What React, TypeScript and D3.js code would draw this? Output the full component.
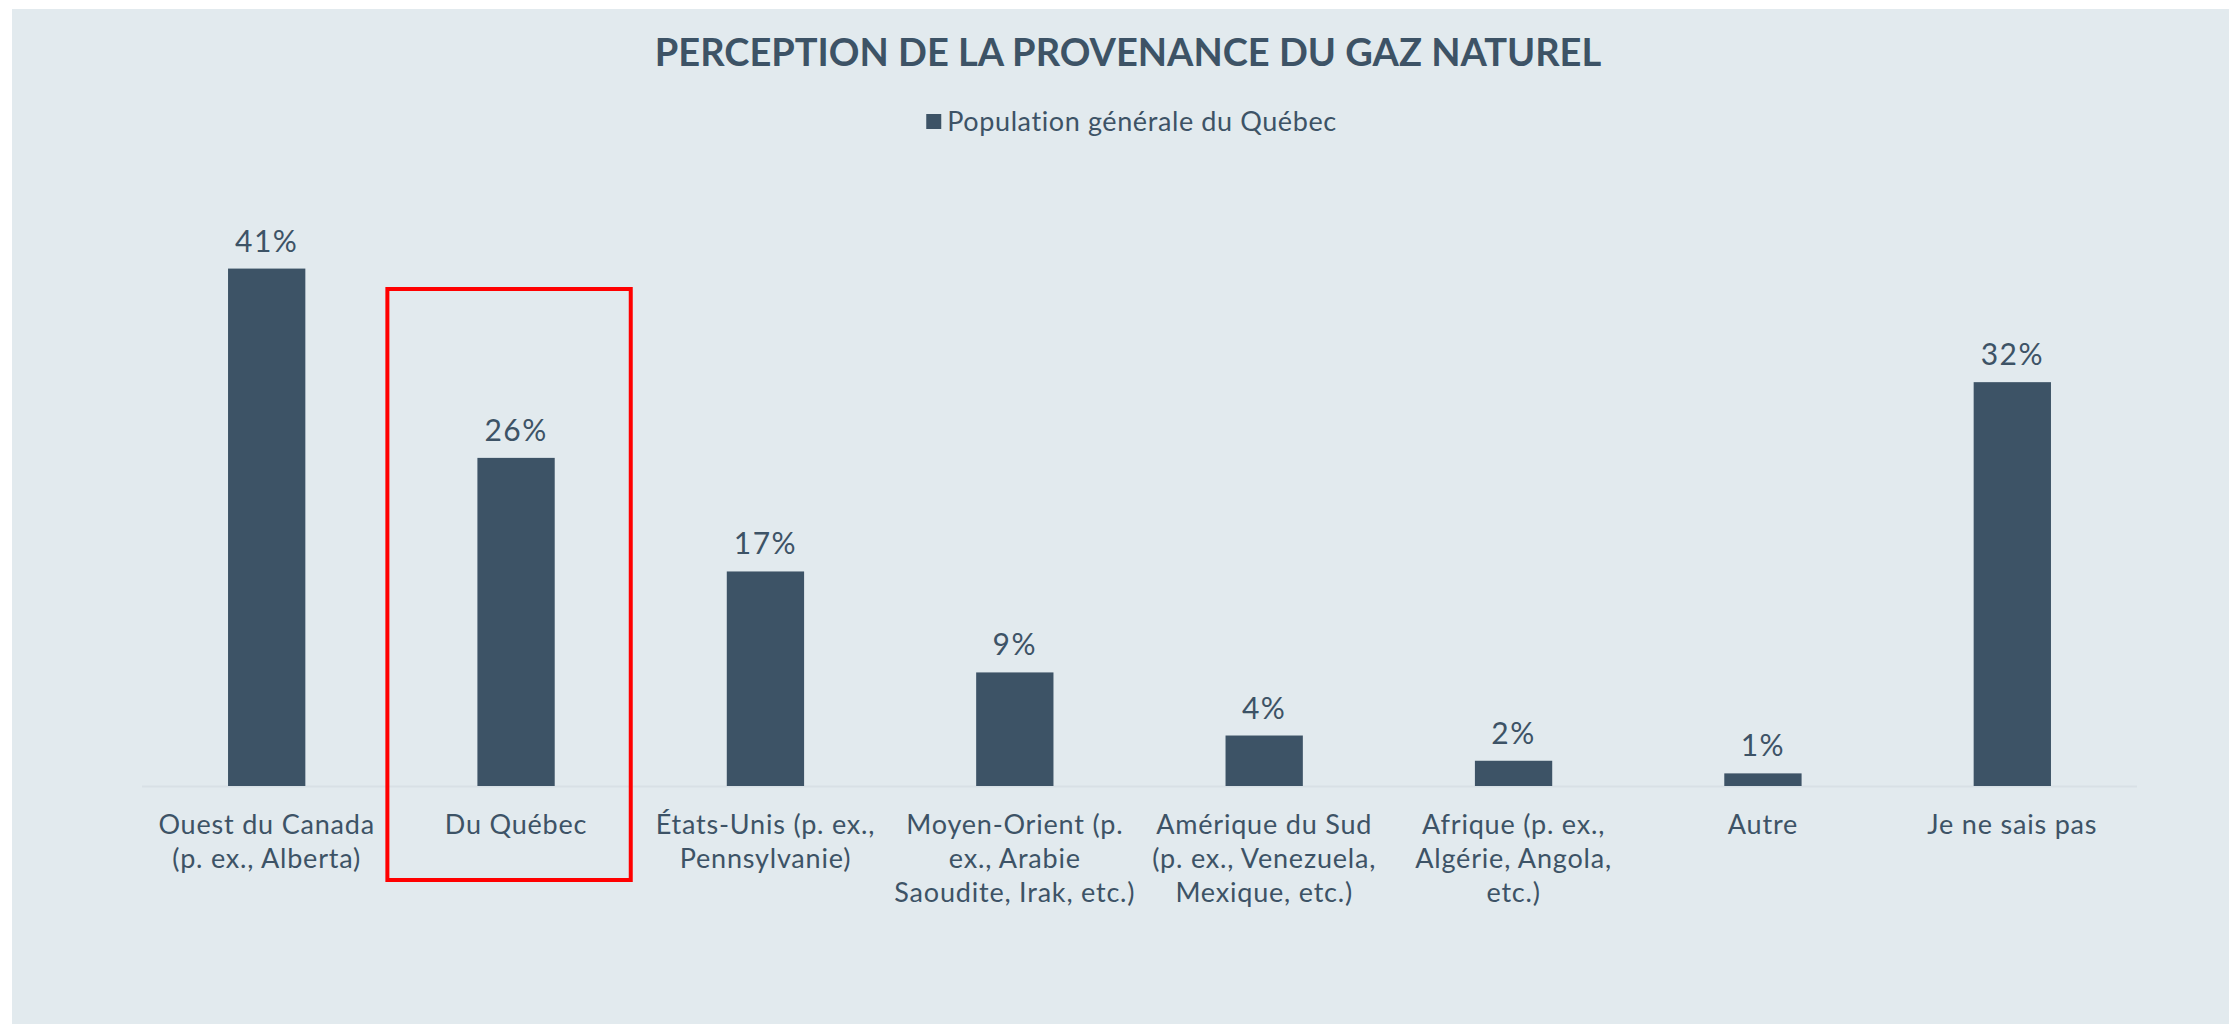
import { useEffect, useRef } from "react";
import * as d3 from "d3";

const title = "PERCEPTION DE LA PROVENANCE DU GAZ NATUREL";
const seriesName = "Population générale du Québec";

const categories = [
  "Ouest du Canada\n(p. ex., Alberta)",
  "Du Québec",
  "États-Unis (p. ex.,\nPennsylvanie)",
  "Moyen-Orient (p.\nex., Arabie\nSaoudite, Irak, etc.)",
  "Amérique du Sud\n(p. ex., Venezuela,\nMexique, etc.)",
  "Afrique (p. ex.,\nAlgérie, Angola,\netc.)",
  "Autre",
  "Je ne sais pas",
];
const values = [41, 26, 17, 9, 4, 2, 1, 32];
const highlighted = "Du Québec";

const W = 2229;
const H = 1024;
const BG = "#E2EAEE";
const BAR = "#3D5366";
const TEXT = "#3D5366";
const FONT = "Lato, 'Open Sans', sans-serif";

export default function App() {
  const ref = useRef<SVGSVGElement | null>(null);

  useEffect(() => {
    if (!ref.current) return;
    const svg = d3.select(ref.current);
    svg.selectAll("*").remove();

    const left = 142;
    const right = 2137;
    const baseline = 786;

    const x = d3.scaleBand<string>().domain(categories).range([left, right]).paddingInner(0.69).paddingOuter(0.345);
    const y = d3.scaleLinear().domain([0, 45]).range([baseline, baseline - 45 * 12.62]);

    svg.append("rect").attr("x", 12).attr("y", 9).attr("width", W - 12).attr("height", H - 9).attr("fill", BG);

    svg.append("text")
      .attr("x", 1128).attr("y", 66)
      .attr("text-anchor", "middle")
      .attr("font-family", FONT).attr("font-weight", "bold").attr("font-size", 38)
      .attr("fill", TEXT)
      .text(title);

    // legend
    const lg = svg.append("g").attr("transform", "translate(1134,121)");
    const legText = lg.append("text")
      .attr("x", 8).attr("y", 10)
      .attr("text-anchor", "middle")
      .attr("font-family", FONT).attr("font-size", 27).attr("letter-spacing", 0.6)
      .attr("fill", TEXT)
      .text(seriesName);
    const tw = (legText.node() as SVGTextElement).getComputedTextLength();
    lg.append("rect").attr("x", 8 - tw / 2 - 21).attr("y", -7).attr("width", 15).attr("height", 15).attr("fill", BAR);

    // axis line
    svg.append("line")
      .attr("x1", left).attr("x2", right)
      .attr("y1", baseline + 0.5).attr("y2", baseline + 0.5)
      .attr("stroke", "#D8E0E5").attr("stroke-width", 2);

    svg.append("g")
      .selectAll("rect")
      .data(values)
      .join("rect")
      .attr("x", (_, i) => x(categories[i])!)
      .attr("width", x.bandwidth())
      .attr("y", (d) => y(d))
      .attr("height", (d) => baseline - y(d))
      .attr("fill", BAR);

    svg.append("g")
      .attr("font-family", FONT).attr("font-size", 30).attr("letter-spacing", 1.5).attr("fill", TEXT)
      .attr("text-anchor", "middle")
      .selectAll("text")
      .data(values)
      .join("text")
      .attr("x", (_, i) => x(categories[i])! + x.bandwidth() / 2)
      .attr("y", (d) => y(d) - 17)
      .text((d) => `${d}%`);

    const labels = svg.append("g")
      .attr("font-family", FONT).attr("font-size", 27).attr("letter-spacing", 0.8).attr("fill", TEXT)
      .attr("text-anchor", "middle");
    categories.forEach((c) => {
      const t = labels.append("text")
        .attr("x", x(c)! + x.bandwidth() / 2)
        .attr("y", 834);
      c.split("\n").forEach((line, j) => {
        t.append("tspan")
          .attr("x", x(c)! + x.bandwidth() / 2)
          .attr("dy", j === 0 ? 0 : 34)
          .text(line);
      });
    });

    // highlight box
    const step = x.step();
    const cx = x(highlighted)! + x.bandwidth() / 2;
    svg.append("rect")
      .attr("x", cx - step / 2 - 4).attr("y", 289)
      .attr("width", step - 6).attr("height", 591)
      .attr("fill", "none").attr("stroke", "#FF0000").attr("stroke-width", 4);
  }, []);

  return (
    <svg ref={ref} width={W} height={H} style={{ position: "absolute", left: 0, top: 0, display: "block" }} />
  );
}
